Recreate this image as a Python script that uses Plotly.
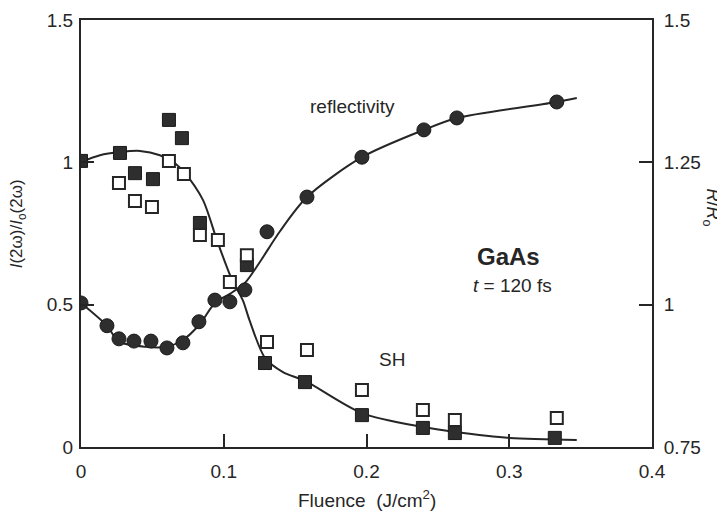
import plotly.graph_objects as go

# ---- data ----
sh_filled_x = [0.0, 0.0273, 0.0378, 0.0504, 0.0616, 0.0707, 0.0833, 0.1162, 0.1289, 0.1569, 0.1968, 0.2395, 0.2619, 0.3319]
sh_filled_y = [1.005, 1.033, 0.962, 0.941, 1.149, 1.085, 0.787, 0.639, 0.295, 0.228, 0.112, 0.067, 0.049, 0.032]

sh_open_x = [0.0266, 0.0378, 0.0497, 0.0616, 0.0721, 0.0833, 0.0959, 0.1043, 0.1162, 0.1303, 0.1583, 0.1968, 0.2395, 0.2619, 0.3333]
sh_open_y = [0.927, 0.864, 0.843, 1.005, 0.959, 0.745, 0.727, 0.580, 0.674, 0.369, 0.341, 0.200, 0.130, 0.095, 0.102]

refl_x = [0.0, 0.0182, 0.0266, 0.0371, 0.0490, 0.0602, 0.0714, 0.0826, 0.0938, 0.1043, 0.1148, 0.1303, 0.1583, 0.1968, 0.2402, 0.2633, 0.3333]
refl_r = [1.003, 0.963, 0.940, 0.936, 0.936, 0.924, 0.933, 0.970, 1.008, 1.005, 1.026, 1.128, 1.189, 1.259, 1.307, 1.328, 1.356]

sh_fit_x = [0.0, 0.0133, 0.0273, 0.0413, 0.0553, 0.0658, 0.0728, 0.0854, 0.0952, 0.1050, 0.1134, 0.1180, 0.1289, 0.1415, 0.157, 0.1967, 0.2395, 0.2619, 0.3004, 0.3473]
sh_fit_y = [1.001, 1.025, 1.036, 1.040, 1.025, 0.997, 0.962, 0.868, 0.727, 0.597, 0.515, 0.446, 0.313, 0.263, 0.232, 0.119, 0.070, 0.053, 0.032, 0.025]

refl_fit_x = [0.0, 0.0182, 0.0266, 0.0455, 0.0595, 0.0714, 0.0833, 0.0938, 0.1043, 0.1148, 0.1253, 0.1394, 0.1583, 0.1968, 0.2402, 0.2633, 0.3333, 0.3473]
refl_fit_r = [1.003, 0.963, 0.935, 0.926, 0.926, 0.938, 0.966, 1.003, 1.019, 1.038, 1.075, 1.129, 1.189, 1.259, 1.307, 1.328, 1.356, 1.363]

x_ticks = [0, 0.1, 0.2, 0.3, 0.4]
x_ticktext = ["0", "0.1", "0.2", "0.3", "0.4"]
y_ticks = [0, 0.5, 1, 1.5]
y_ticktext = ["0", "0.5", "1", "1.5"]
y2_ticks = [0.75, 1, 1.25, 1.5]
y2_ticktext = ["0.75", "1", "1.25", "1.5"]

INK = "#262626"
FONT = "Liberation Sans, Arial, Helvetica, sans-serif"

fig = go.Figure()

fig.add_trace(go.Scatter(x=sh_fit_x, y=sh_fit_y, mode="lines",
                         line=dict(color=INK, width=2, shape="spline", smoothing=0.8),
                         hoverinfo="skip", showlegend=False))
fig.add_trace(go.Scatter(x=refl_fit_x, y=refl_fit_r, mode="lines", yaxis="y2",
                         line=dict(color=INK, width=2, shape="spline", smoothing=0.8),
                         hoverinfo="skip", showlegend=False))
fig.add_trace(go.Scatter(x=sh_filled_x, y=sh_filled_y, mode="markers",
                         marker=dict(symbol="square", size=13, color="#2e2e2e",
                                     line=dict(color="#1a1a1a", width=1)),
                         showlegend=False))
fig.add_trace(go.Scatter(x=sh_open_x, y=sh_open_y, mode="markers",
                         marker=dict(symbol="square", size=12, color="white",
                                     line=dict(color=INK, width=2)),
                         showlegend=False))
fig.add_trace(go.Scatter(x=refl_x, y=refl_r, mode="markers", yaxis="y2",
                         marker=dict(symbol="circle", size=14, color="#2e2e2e",
                                     line=dict(color="#1a1a1a", width=1)),
                         showlegend=False))

axis_common = dict(showgrid=False, zeroline=False, showline=True, linecolor=INK,
                   linewidth=2, ticks="inside", ticklen=13, tickwidth=2, tickcolor=INK,
                   automargin=False,
                   tickfont=dict(family=FONT, size=19, color=INK))

# the page body has an 8px default margin, so the figure is 8px smaller
fig.update_layout(
    width=717, height=506,
    margin=dict(l=73, r=73, t=12, b=67, autoexpand=False),
    paper_bgcolor="white", plot_bgcolor="white",
    font=dict(family=FONT, color=INK),
    xaxis=dict(range=[0, 0.4], tickvals=x_ticks, ticktext=x_ticktext,
               mirror=True, ticklabelstandoff=6, **axis_common),
    yaxis=dict(range=[0, 1.5], tickvals=y_ticks, ticktext=y_ticktext,
               ticklabelstandoff=2, **axis_common),
    yaxis2=dict(range=[0.75, 1.5], tickvals=y2_ticks, ticktext=y2_ticktext,
                overlaying="y", side="right", ticklabelstandoff=6, **axis_common),
    annotations=[
        dict(text="Fluence  (J/cm<sup>2</sup>)", xref="paper", yref="paper",
             x=0.5, y=-0.122, xanchor="center", yanchor="middle", showarrow=False,
             font=dict(family=FONT, size=19, color=INK)),
        dict(text="<i>I</i>(2ω)/<i>I</i><sub>o</sub>(2ω)", xref="paper", yref="paper",
             x=-0.110, y=0.522, xanchor="center", yanchor="middle", textangle=-90,
             showarrow=False, font=dict(family=FONT, size=17, color=INK)),
        dict(text="<i>R</i>/<i>R</i><sub>o</sub>", xref="paper", yref="paper",
             x=1.104, y=0.56, xanchor="center", yanchor="middle", textangle=90,
             showarrow=False, font=dict(family=FONT, size=18, color=INK)),
        dict(text="reflectivity", xref="paper", yref="paper",
             x=(352 - 81) / 571, y=(447 - 106) / 427, xanchor="center", yanchor="middle",
             showarrow=False, font=dict(family=FONT, size=19, color=INK)),
        dict(text="<b>GaAs</b>", xref="paper", yref="paper",
             x=(508 - 81) / 571, y=(447 - 257) / 427, xanchor="center", yanchor="middle",
             showarrow=False, font=dict(family=FONT, size=24, color=INK)),
        dict(text="<i>t</i> = 120 fs", xref="paper", yref="paper",
             x=(512 - 81) / 571, y=(447 - 285) / 427, xanchor="center", yanchor="middle",
             showarrow=False, font=dict(family=FONT, size=19, color=INK)),
        dict(text="SH", xref="paper", yref="paper",
             x=(392 - 81) / 571, y=(447 - 359) / 427, xanchor="center", yanchor="middle",
             showarrow=False, font=dict(family=FONT, size=19, color=INK)),
    ],
)

fig.write_html("out.html")
